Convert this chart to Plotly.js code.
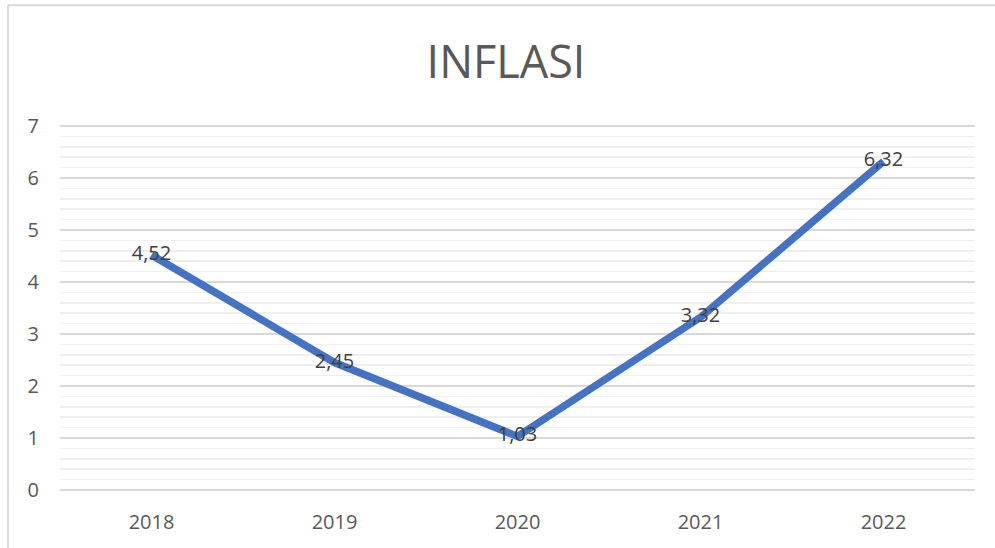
<!DOCTYPE html>
<html>
<head>
<meta charset="utf-8">
<script src="https://cdn.plot.ly/plotly-3.0.1.min.js"></script>
<style>html,body{margin:0;padding:0;background:#fff;}#chart{width:995px;height:548px;}</style>
</head>
<body>
<div id="chart"></div>
<script>
const years = ['2018', '2019', '2020', '2021', '2022'];
const inflasi = [4.52, 2.45, 1.03, 3.32, 6.32];
const yTicks = [0, 1, 2, 3, 4, 5, 6, 7];

const W = 995, H = 548, L = 60, R = 20, T = 126, B = 58;
const pw = W - L - R, ph = H - T - B;
const px = x => (x - L) / pw;
const py = y => (H - B - y) / ph;

const trace = {
  type: 'scatter',
  mode: 'lines+text',
  x: years,
  y: inflasi,
  line: {color: '#4472C4', width: 7.5},
  texttemplate: '%{y:.2f}',
  textposition: 'middle center',
  textfont: {family: 'Open Sans, sans-serif', size: 20, color: '#404040'},
  cliponaxis: false,
  hoverinfo: 'skip'
};

const layout = {
  width: W, height: H,
  margin: {l: L, r: R, t: T - 1, b: B - 1, pad: 0},
  paper_bgcolor: '#ffffff',
  plot_bgcolor: '#ffffff',
  separators: ',.',
  showlegend: false,
  title: {
    text: 'INFLASI',
    font: {family: 'Open Sans, sans-serif', size: 45, color: '#595959'},
    x: 506 / W, xref: 'container', xanchor: 'center',
    y: 1 - 62 / H, yref: 'container', yanchor: 'middle'
  },
  xaxis: {
    type: 'category',
    range: [-0.5, 4.5],
    showgrid: false,
    zeroline: false,
    showline: false,
    ticks: '',
    ticklabelstandoff: 17,
    tickfont: {family: 'Open Sans, sans-serif', size: 20, color: '#595959'}
  },
  yaxis: {
    range: [-0.02, 7.02],
    tickvals: yTicks,
    ticktext: yTicks.map(String),
    showgrid: true,
    gridcolor: '#d9d9d9',
    gridwidth: 2,
    zeroline: false,
    showline: false,
    ticks: '',
    ticklabelstandoff: 20,
    tickfont: {family: 'Open Sans, sans-serif', size: 20, color: '#595959'},
    minor: {dtick: 0.2, showgrid: true, gridcolor: '#efefef', gridwidth: 1.5}
  },
  shapes: [
    {type: 'line', xref: 'paper', yref: 'paper', x0: px(8), x1: px(8), y0: py(548), y1: py(7), line: {color: '#d9d9d9', width: 2}},
    {type: 'line', xref: 'paper', yref: 'paper', x0: px(8), x1: px(995), y0: py(7), y1: py(7), line: {color: '#d9d9d9', width: 2}}
  ]
};

Plotly.newPlot('chart', [trace], layout, {staticPlot: true, displayModeBar: false});
</script>
</body>
</html>
